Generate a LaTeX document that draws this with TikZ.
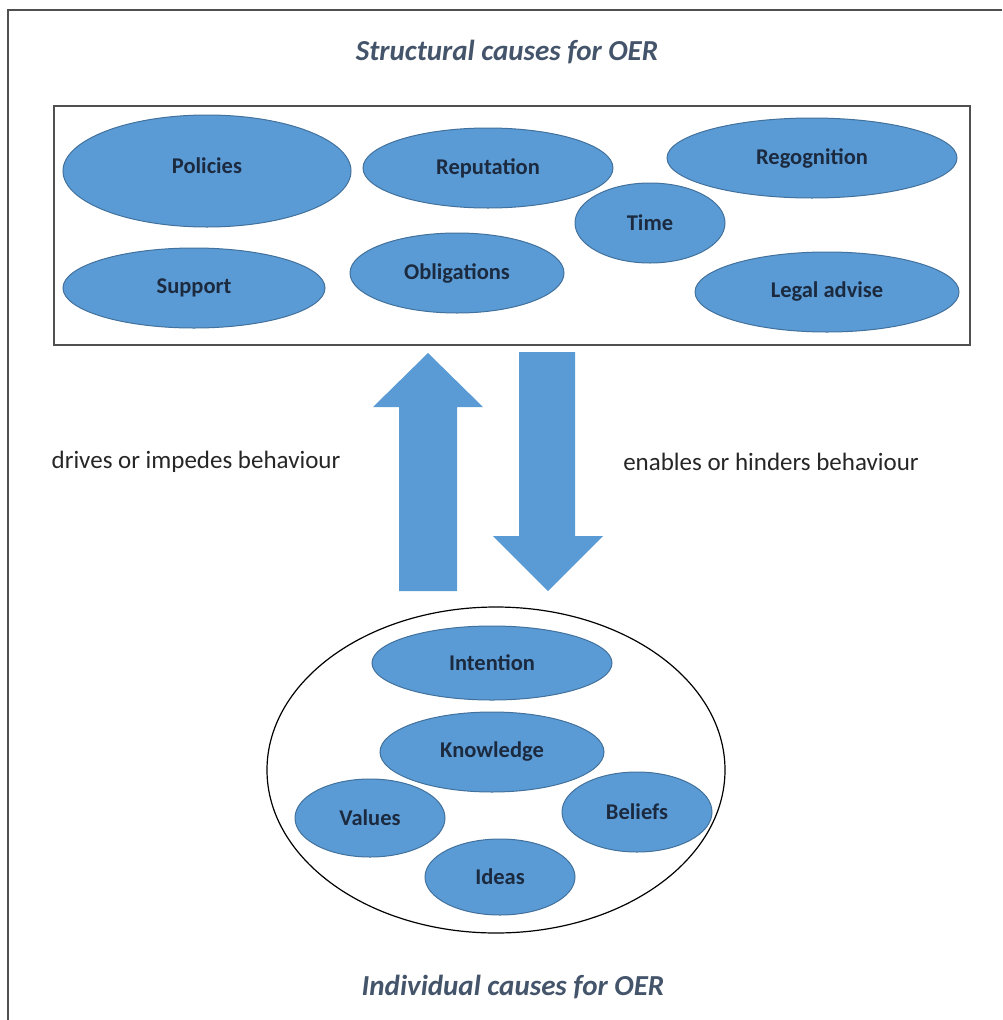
\documentclass[tikz,border=0pt]{standalone}
\usepackage{fontspec}
\setmainfont{Carlito}
\usetikzlibrary{shapes.geometric}
\definecolor{ovalblue}{HTML}{5B9BD5}
\definecolor{ovalline}{HTML}{41719C}
\definecolor{ovaltext}{HTML}{1C2A3F}
\definecolor{titlegray}{HTML}{44546A}
\definecolor{framegray}{HTML}{505050}
\begin{document}
\begin{tikzpicture}[x=1pt,y=-1pt,
  cause/.style={ellipse,draw=ovalline,fill=ovalblue,line width=1pt,
    inner sep=0pt,font=\fontsize{22.5}{26}\selectfont\bfseries,text=ovaltext},
  title/.style={font=\fontsize{29}{33}\selectfont\bfseries\itshape,text=titlegray},
  effect/.style={font=\fontsize{25}{29}\selectfont,text=black!85},
  blockarrow/.style={fill=ovalblue,draw=none}]
\useasboundingbox (0,0) rectangle (1002,1020);
\draw[framegray,line width=2.5pt] (8,1020) |- (1002,10);

% structural causes
\node[title] (sttitle) at (507,52) {Structural causes for OER};
\draw[framegray,line width=2pt] (54,106) rectangle (970,345);
\node[cause,minimum width=288,minimum height=112] (policies) at (207,171) {\raisebox{10pt}{Policies}};
\node[cause,minimum width=250,minimum height=80] (reputation) at (488,168) {Reputation};
\node[cause,minimum width=290,minimum height=80] (recognition) at (812,158) {Regognition};
\node[cause,minimum width=150,minimum height=80] (time) at (650,223) {Time};
\node[cause,minimum width=262,minimum height=80] (support) at (194,288) {Support};
\node[cause,minimum width=214,minimum height=80] (obligations) at (457,273) {\raisebox{3pt}{Obligations}};
\node[cause,minimum width=264,minimum height=80] (legal) at (827,292) {Legal advise};

% block arrows between the two levels
\fill[blockarrow] (399,591) -- (399,407) -- (373,407) -- (428,353)
  -- (483,407) -- (457,407) -- (457,591) -- cycle;
\fill[blockarrow] (519,352) -- (519,536) -- (493,536) -- (548,591)
  -- (603,536) -- (575,536) -- (575,352) -- cycle;
\node[effect] (drives) at (196,462) {drives or impedes behaviour};
\node[effect] (enables) at (771,462) {enables or hinders behaviour};

% individual causes
\node[ellipse,draw=black,line width=1.2pt,minimum width=458,minimum height=326] (indiv) at (496,770) {};
\node[cause,minimum width=240,minimum height=74] (intention) at (492,663) {Intention};
\node[cause,minimum width=224,minimum height=80] (knowledge) at (492,752) {Knowledge};
\node[cause,minimum width=150,minimum height=78] (values) at (370,818) {Values};
\node[cause,minimum width=150,minimum height=80] (beliefs) at (637,812) {Beliefs};
\node[cause,minimum width=150,minimum height=76] (ideas) at (500,877) {Ideas};
\node[title] (intitle) at (513,987) {Individual causes for OER};
\end{tikzpicture}
\end{document}
